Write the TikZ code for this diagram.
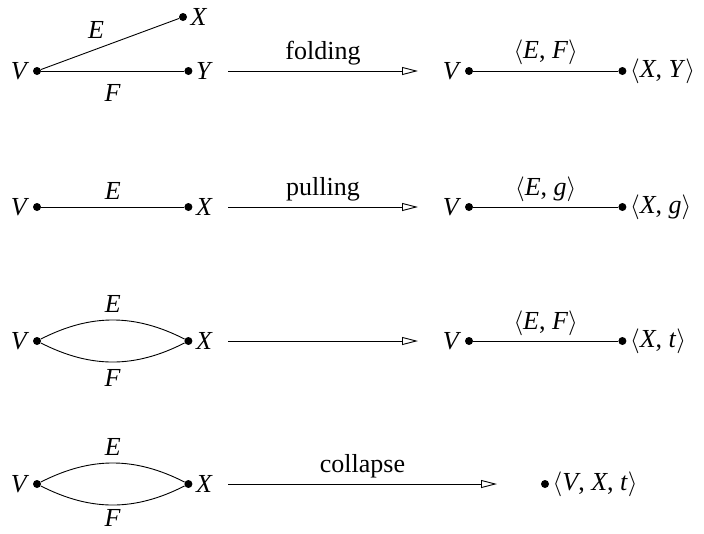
\documentclass[tikz,border=0pt]{standalone}
\usepackage{fontspec}
\setmainfont{Liberation Serif}
\usetikzlibrary{arrows.meta, positioning}

\newcommand{\mv}[1]{\textit{#1}}
\newcommand{\tup}[1]{$\langle$#1$\rangle$}

\begin{document}
\begin{tikzpicture}[
    x=1pt, y=-1pt,
    font=\fontsize{26}{30}\selectfont,
    node distance=143pt,
    vertex/.style={circle, fill, inner sep=0pt, minimum size=8pt, label distance=-3pt},
    edge/.style={line width=0.9pt},
    move/.style={line width=0.9pt, -{Triangle[open, length=16pt, width=8pt]}},
    near/.style={label distance=-7pt}
]
    \useasboundingbox (0,0) rectangle (704,533);

    % folding
    \node[vertex, label=left:\mv{V}] (v1) at (37,71) {};
    \node[vertex, label=right:\mv{X}] (x1) at (183,17) {};
    \node[vertex, right=of v1, label=right:\mv{Y}] (y1) {};
    \draw[edge] (v1) -- node[pos=0.4, above=7pt] {\mv{E}} (x1);
    \draw[edge] (v1) -- node[below=10pt] {\mv{F}} (y1);
    \coordinate (s1) at (228,71);
    \coordinate (t1) at (418,71);
    \draw[move] (s1) -- node[above=2pt] {folding} (t1);
    \node[vertex, label=left:\mv{V}] (v5) at (469,71) {};
    \node[vertex, near, right=145pt of v5, label=right:\tup{\mv{X}, \mv{Y}}] (w1) {};
    \draw[edge] (v5) -- node[above=2pt] {\tup{\mv{E}, \mv{F}}} (w1);

    % pulling
    \node[vertex, label=left:\mv{V}] (v2) at (37,207) {};
    \node[vertex, right=of v2, label=right:\mv{X}] (x2) {};
    \draw[edge] (v2) -- node[above=4pt] {\mv{E}} (x2);
    \coordinate (s2) at (228,207);
    \coordinate (t2) at (418,207);
    \draw[move] (s2) -- node[above=2pt] {pulling} (t2);
    \node[vertex, label=left:\mv{V}] (v6) at (469,207) {};
    \node[vertex, near, right=145pt of v6, label=right:\tup{\mv{X}, \mv{g}}] (w2) {};
    \draw[edge] (v6) -- node[above=2pt] {\tup{\mv{E}, \mv{g}}} (w2);

    % no label
    \node[vertex, label=left:\mv{V}] (v3) at (37,341) {};
    \node[vertex, right=of v3, label=right:\mv{X}] (x3) {};
    \draw[edge] (v3) to[bend left=27] node[above=4pt] {\mv{E}} (x3);
    \draw[edge] (v3) to[bend right=27] node[below=4pt] {\mv{F}} (x3);
    \coordinate (s3) at (228,341);
    \coordinate (t3) at (418,341);
    \draw[move] (s3) -- (t3);
    \node[vertex, label=left:\mv{V}] (v7) at (469,341) {};
    \node[vertex, near, right=145pt of v7, label=right:\tup{\mv{X}, \mv{t}}] (w3) {};
    \draw[edge] (v7) -- node[above=2pt] {\tup{\mv{E}, \mv{F}}} (w3);

    % collapse
    \node[vertex, label=left:\mv{V}] (v4) at (37,484) {};
    \node[vertex, right=of v4, label=right:\mv{X}] (x4) {};
    \draw[edge] (v4) to[bend left=27] node[above=4pt] {\mv{E}} (x4);
    \draw[edge] (v4) to[bend right=27] node[below=1pt] {\mv{F}} (x4);
    \coordinate (s4) at (228,484);
    \coordinate (t4) at (497,484);
    \draw[move] (s4) -- node[above=2pt] {collapse} (t4);
    \node[vertex, near, label=right:\tup{\mv{V}, \mv{X}, \mv{t}}] (w4) at (545,484) {};
\end{tikzpicture}
\end{document}
